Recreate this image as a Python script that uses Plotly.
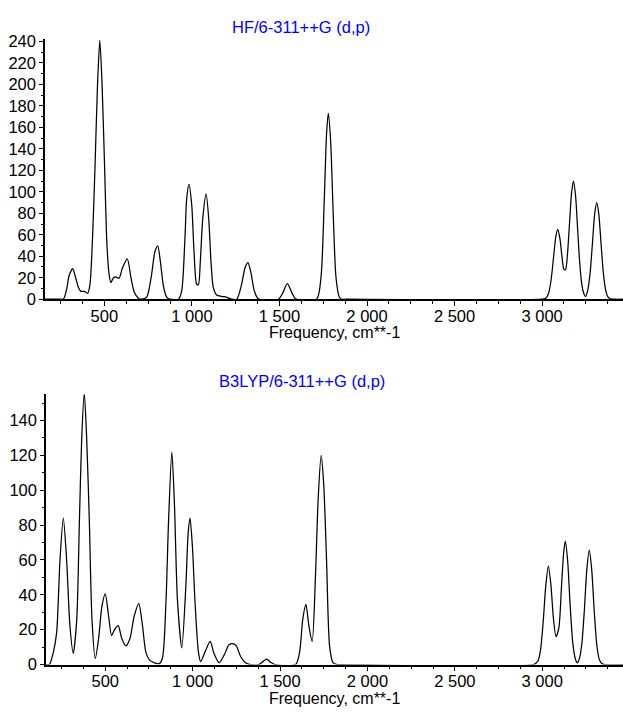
import plotly.graph_objects as go

# ---------------- data ----------------
hf_title = "HF/6-311++G (d,p)"
b3_title = "B3LYP/6-311++G (d,p)"
x_title = "Frequency, cm**-1"

hf_freq = [161, 250, 266, 285, 298, 319, 336, 352, 367, 386, 405, 418, 432, 447, 461, 474, 487, 501,
           515, 528, 538, 552, 565, 584, 603, 631, 652, 671, 694, 713, 742, 767, 789, 805, 820,
           837, 856, 875, 923, 942, 961, 970, 983, 999, 1012, 1027, 1037, 1048, 1062, 1081, 1096,
           1109, 1122, 1141, 1170, 1199, 1227, 1256, 1284, 1303, 1320, 1337, 1356, 1379, 1494,
           1516, 1545, 1570, 1592, 1712, 1737, 1756, 1769, 1779, 1792, 1808, 1823, 1842, 1855,
           1880, 3000, 3021, 3036, 3051, 3066, 3078, 3089, 3101, 3113, 3124, 3134, 3144, 3156,
           3168, 3179, 3191, 3203, 3215, 3227, 3239, 3249, 3261, 3274, 3287, 3300, 3312, 3324,
           3337, 3350, 3363, 3376, 3391, 3411, 3462]
hf_int = [0, 0, 0, 9.5, 21.6, 28.4, 20, 11, 7.3, 7.3, 5.5, 14, 55, 125, 200, 241, 200, 125,
          50, 22, 15.5, 20, 20.7, 19.5, 29, 37.5, 20, 6.4, 1, 0, 2, 20, 44.5, 49.7, 35,
          12.5, 2, 0, 0, 8, 60, 93, 107, 87.8, 44.5, 14, 13.4, 35, 75, 98, 75,
          35, 11, 4, 2.7, 1.8, 0, 0, 14, 29, 34, 24.7, 8, 0.3, 0,
          5, 14.5, 6.4, 0.3, 0, 20, 93, 154, 173, 148, 75, 20, 2, 0,
          0, 0, 0.9, 5, 17.4, 40, 58, 65, 57.4, 40.4, 28.1, 27.5, 40, 69,
          98.5, 110, 96.5, 65, 33.6, 13.5, 4.8, 2.5, 8.6, 24, 51, 79, 90, 79,
          51, 24, 8.4, 2.1, 0.3, 0, 0]

b3_freq = [161, 180, 203, 222, 241, 260, 279, 298, 317, 337, 352, 365, 380, 394, 409, 424, 443,
           462, 481, 500, 519, 536, 555, 574, 595, 618, 641, 666, 692, 713, 732, 755, 780, 808,
           827, 847, 862, 881, 896, 913, 938, 961, 974, 985, 999, 1014, 1033, 1046, 1071, 1100,
           1122, 1151, 1180, 1208, 1231, 1250, 1275, 1303, 1332, 1379, 1402, 1423, 1446, 1471,
           1589, 1612, 1630, 1648, 1665, 1684, 1703, 1718, 1735, 1750, 1766, 1783, 1802, 1827,
           1860, 2950, 2975, 2990, 3005, 3020, 3035, 3050, 3063, 3079, 3095, 3110, 3122, 3132,
           3145, 3160, 3175, 3190, 3201, 3213, 3227, 3241, 3255, 3269, 3283, 3297, 3311, 3325,
           3340, 3360, 3462]
b3_int = [0, 0, 7, 18.5, 60, 84, 60, 22, 6.4, 26, 82, 129, 156, 129, 82, 26, 3.5,
          15, 33.5, 40.5, 28, 16.7, 20.4, 22.3, 14.8, 10.7, 14.8, 28, 35, 22.3, 7.3, 2.4, 1.1, 0.4,
          3.6, 35, 82, 122, 91.6, 37, 9.6, 45, 75, 84, 67, 35, 7.3, 1.7, 7.3, 13.3,
          6.4, 1, 5.4, 11.4, 12, 10.7, 4.5, 1, 0, 0, 1.7, 3.2, 1.3, 0,
          0, 7.3, 26, 34.5, 22.3, 13.3, 52, 95, 120, 103, 60, 11, 1.3, 0,
          0, 0, 1.9, 8.3, 24, 45, 56.5, 45.3, 27.5, 16, 21, 44.5, 63.7, 70.8,
          60, 33.4, 12.2, 3.1, 1.0, 3.6, 12.4, 31.3, 54.5, 65.6, 54.5, 31.3, 12.4, 3.4,
          0.6, 0, 0]

x_tick_vals = [500, 1000, 1500, 2000, 2500, 3000]
x_tick_text = ["500", "1 000", "1 500", "2 000", "2 500", "3 000"]
x_range = [161, 3462]
hf_y_range = [0, 242.6]
b3_y_range = [0, 155]

# ---------------- figure ----------------
W, H = 623, 715
FONT = "Liberation Sans, Arial, sans-serif"
FS = 16.5


def fx(p):
    return p / W


def fy(p):
    return 1 - p / H


fig = go.Figure()
line_style = dict(color="black", width=1.25, shape="spline", smoothing=0.7)
fig.add_trace(go.Scatter(x=hf_freq, y=hf_int, mode="lines", line=line_style,
                         xaxis="x", yaxis="y", showlegend=False, hoverinfo="skip"))
fig.add_trace(go.Scatter(x=b3_freq, y=b3_int, mode="lines", line=line_style,
                         xaxis="x2", yaxis="y2", showlegend=False, hoverinfo="skip"))

tickfont = dict(family=FONT, size=FS, color="black")


def xaxis(domain, anchor):
    return dict(domain=domain, anchor=anchor, range=x_range, showline=True, linecolor="black",
                linewidth=1.5, ticks="outside", ticklen=5, tickwidth=1, tickcolor="black",
                tickmode="array", tickvals=x_tick_vals, ticktext=x_tick_text, tickfont=tickfont,
                ticklabelstandoff=-4,
                showgrid=False, zeroline=False, fixedrange=True,
                minor=dict(tickmode="linear", tick0=0, dtick=125, ticks="outside", ticklen=3,
                           tickcolor="black", tickwidth=1, showgrid=False))


def yaxis(domain, anchor, rng):
    return dict(domain=domain, anchor=anchor, range=rng, showline=True, linecolor="black",
                linewidth=1.5, ticks="outside", ticklen=4, tickwidth=1, tickcolor="black",
                tickmode="linear", tick0=0, dtick=20, tickfont=tickfont,
                showgrid=False, zeroline=False, fixedrange=True,
                minor=dict(tickmode="linear", tick0=0, dtick=10, ticks="outside", ticklen=2,
                           tickcolor="black", tickwidth=1, showgrid=False))


fig.update_layout(
    width=W, height=H, autosize=False,
    margin=dict(l=0, r=0, t=0, b=0, pad=0),
    paper_bgcolor="white", plot_bgcolor="white",
    xaxis=xaxis([fx(45), 1.0], "y"),
    yaxis=yaxis([fy(299.5), fy(33.3)], "x", hf_y_range),
    xaxis2=xaxis([fx(46), 1.0], "y2"),
    yaxis2=yaxis([fy(672.7), fy(396.7)], "x2", b3_y_range),
    annotations=[
        dict(text=hf_title, x=fx(301), y=fy(21), xref="paper", yref="paper",
             xanchor="center", yanchor="middle", showarrow=False,
             font=dict(family=FONT, size=FS, color="#0000ff")),
        dict(text=b3_title, x=fx(302), y=fy(383), xref="paper", yref="paper",
             xanchor="center", yanchor="middle", showarrow=False,
             font=dict(family=FONT, size=FS, color="#0000ff")),
        dict(text=x_title, x=fx(334), y=fy(333.5), xref="paper", yref="paper",
             xanchor="center", yanchor="middle", showarrow=False,
             font=dict(family=FONT, size=16, color="black")),
        dict(text=x_title, x=fx(334), y=fy(707), xref="paper", yref="paper",
             xanchor="center", yanchor="middle", showarrow=False,
             font=dict(family=FONT, size=16, color="black")),
    ],
)

fig.write_html("out.html")
